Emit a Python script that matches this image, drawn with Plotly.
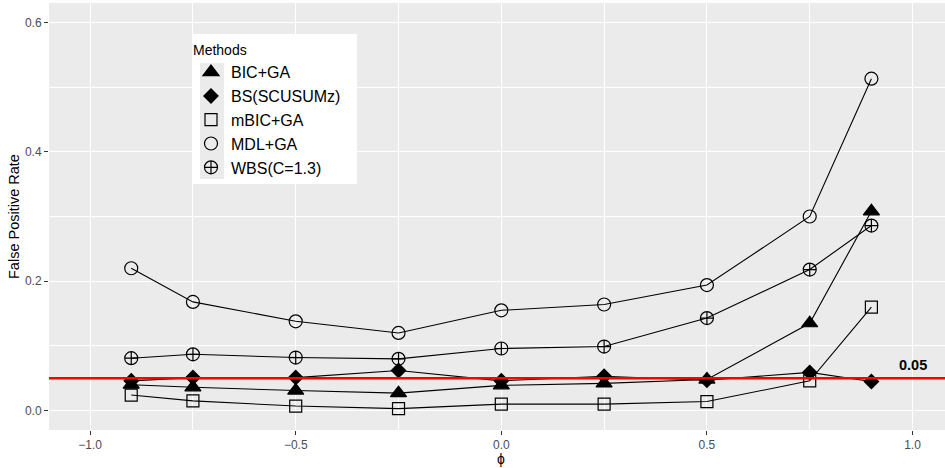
import plotly.graph_objects as go

phi = [-0.9, -0.75, -0.5, -0.25, 0.0, 0.25, 0.5, 0.75, 0.9]
methods = ["BIC+GA", "BS(SCUSUMz)", "mBIC+GA", "MDL+GA", "WBS(C=1.3)"]
bic_ga = [0.040, 0.036, 0.031, 0.027, 0.039, 0.042, 0.048, 0.135, 0.308]
bs_scusumz = [0.046, 0.051, 0.051, 0.062, 0.046, 0.053, 0.047, 0.059, 0.045]
mbic_ga = [0.024, 0.015, 0.007, 0.003, 0.010, 0.010, 0.014, 0.046, 0.160]
mdl_ga = [0.220, 0.168, 0.138, 0.120, 0.155, 0.164, 0.194, 0.300, 0.513]
wbs = [0.081, 0.087, 0.082, 0.080, 0.096, 0.099, 0.143, 0.218, 0.286]
series = [bic_ga, bs_scusumz, mbic_ga, mdl_ga, wbs]
threshold = 0.05
x_ticks = [-1.0, -0.5, 0.0, 0.5, 1.0]
x_ticklabels = ["\u22121.0", "\u22120.5", "0.0", "0.5", "1.0"]
y_ticks = [0.0, 0.2, 0.4, 0.6]
y_ticklabels = ["0.0", "0.2", "0.4", "0.6"]

symbols = ["triangle-up", "diamond", "square-open", "circle-open", "circle-cross-open"]
sizes = [14, 11, 12, 13, 13]

FONT = "Liberation Sans, Arial, sans-serif"
fig = go.Figure()

for name, vals in zip(methods, series):
    fig.add_trace(go.Scatter(x=phi, y=vals, mode="lines", line=dict(color="black", width=1.1),
                             showlegend=False, hoverinfo="skip"))
for name, vals, sym, sz in zip(methods, series, symbols, sizes):
    fig.add_trace(go.Scatter(x=phi, y=vals, mode="markers", name=name,
                             marker=dict(symbol=sym, size=sz, color="black",
                                         line=dict(color="black", width=1.2))))

W, H = 945, 468
ml, mr, mt, mb = 49, 0, 3, 38
pw, ph = W - ml - mr, H - mt - mb

def px(x):
    return (x - ml) / pw

def py(y):
    return (H - mb - y) / ph

shapes = [
    dict(type="line", xref="paper", yref="y", x0=0, x1=1, y0=threshold, y1=threshold,
         line=dict(color="red", width=2.5), layer="above"),
    dict(type="rect", xref="paper", yref="paper", x0=px(193), x1=px(357), y0=py(184), y1=py(34),
         fillcolor="white", line=dict(width=0), layer="above"),
    dict(type="rect", xref="paper", yref="paper", x0=px(200), x1=px(224), y0=py(179), y1=py(63),
         fillcolor="#EBEBEB", line=dict(width=0), layer="above"),
]

fig.update_layout(
    width=W, height=H,
    margin=dict(l=ml, r=mr, t=mt, b=mb),
    paper_bgcolor="white", plot_bgcolor="#EBEBEB",
    font=dict(family=FONT, color="black"),
    shapes=shapes,
    showlegend=True,
    legend=dict(x=px(191), y=py(37), xanchor="left", yanchor="top",
                bgcolor="rgba(0,0,0,0)", borderwidth=0,
                title=dict(text="Methods", font=dict(size=14, family=FONT)),
                font=dict(size=16, family=FONT), itemsizing="trace", tracegroupgap=0),
    xaxis=dict(range=[-1.1, 1.079], tickvals=x_ticks, ticktext=x_ticklabels,
               ticks="outside", ticklen=4, tickcolor="#333333", tickwidth=1,
               tickfont=dict(size=12, color="#4D4D4D"),
               showgrid=True, gridcolor="white", gridwidth=1.1, zeroline=False, showline=False,
               minor=dict(tickvals=[-0.75, -0.25, 0.25, 0.75], showgrid=True, gridcolor="white",
                          gridwidth=0.55, ticks="")),
    yaxis=dict(range=[-0.03, 0.63], tickvals=y_ticks, ticktext=y_ticklabels,
               ticks="outside", ticklen=4, tickcolor="#333333", tickwidth=1,
               tickfont=dict(size=12, color="#4D4D4D"),
               showgrid=True, gridcolor="white", gridwidth=1.1, zeroline=False, showline=False,
               minor=dict(tickvals=[0.1, 0.3, 0.5], showgrid=True, gridcolor="white",
                          gridwidth=0.55, ticks="")),
    annotations=[
        dict(text="<b>0.05</b>", x=1.0, y=0.07, xref="x", yref="y", showarrow=False,
             font=dict(size=14.5, color="black", family=FONT)),
        dict(text="\u03d5", x=0.0, xref="x", y=0, yref="paper", yshift=-29, showarrow=False,
             yanchor="middle", font=dict(size=14, color="black", family=FONT)),
        dict(text="False Positive Rate", x=0, xref="paper", xshift=-35.5, y=0.5, yref="paper",
             textangle=-90, showarrow=False, xanchor="center", yanchor="middle",
             font=dict(size=14.5, color="black", family=FONT)),
    ],
)

fig.write_html("out.html")
